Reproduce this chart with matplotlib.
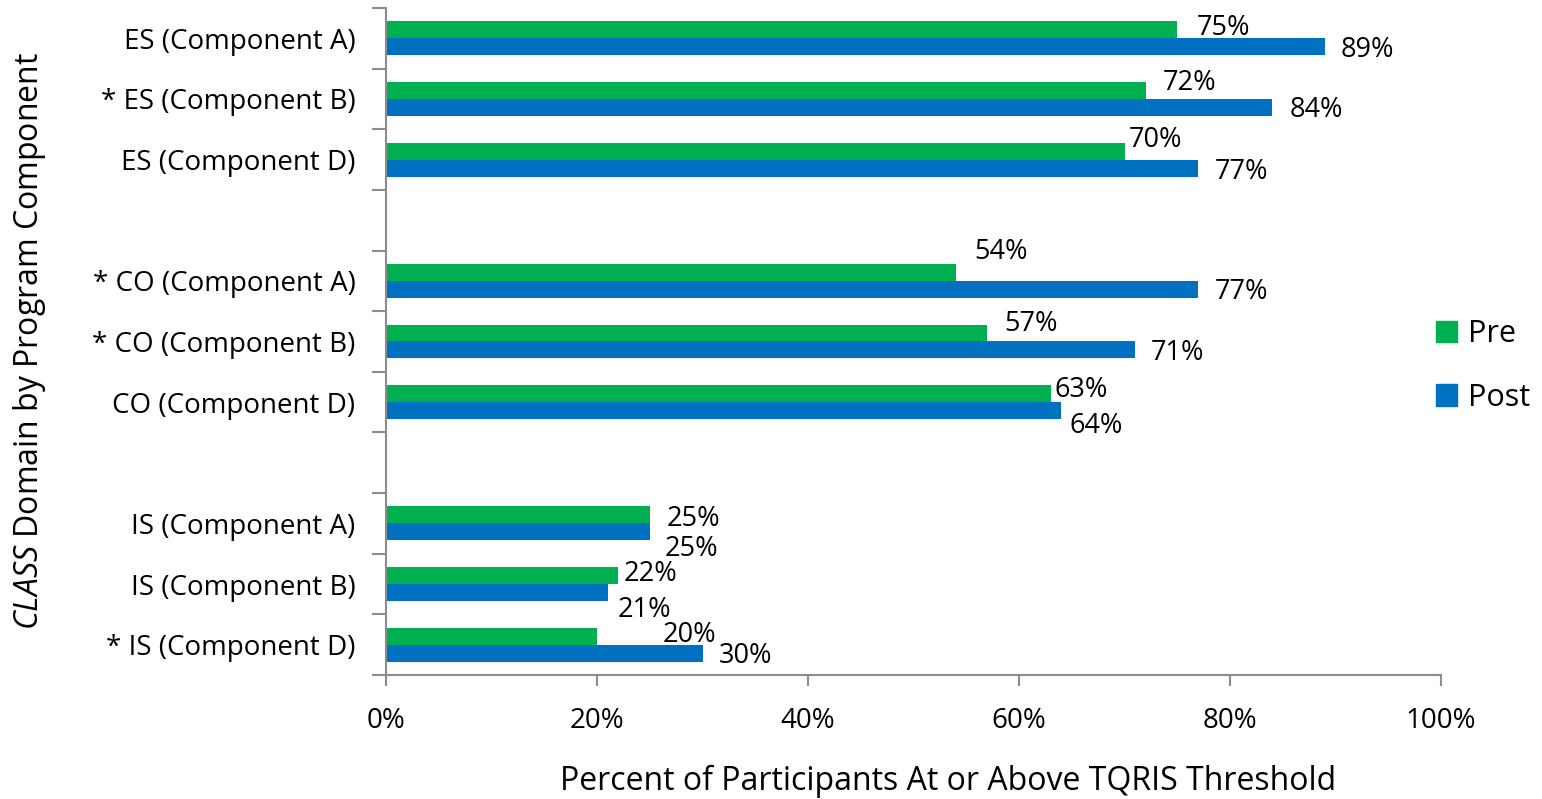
import numpy as np
import matplotlib.pyplot as plt
from matplotlib.patches import Patch

plt.rcParams['font.family'] = ['Open Sans', 'DejaVu Sans']
plt.rcParams['mathtext.fontset'] = 'custom'
plt.rcParams['mathtext.it'] = 'Open Sans:italic'
plt.rcParams['mathtext.rm'] = 'Open Sans'

# data
categories = ["ES (Component A)", "* ES (Component B)", "ES (Component D)",
              "* CO (Component A)", "* CO (Component B)", "CO (Component D)",
              "IS (Component A)", "IS (Component B)", "* IS (Component D)"]
slots = [0, 1, 2, 4, 5, 6, 8, 9, 10]
pre = [75, 72, 70, 54, 57, 63, 25, 22, 20]
post = [89, 84, 77, 77, 71, 64, 25, 21, 30]

# label offsets in pixels (dx from bar end, dy up from bar centre)
pre_off = [(19, 5), (17, 10), (4, 14), (19, 23), (17, 12), (4, 7), (17, -1), (6, 5), (66, 4)]
post_off = [(16, 0), (17, 0), (16, -1), (16, 0), (16, 0), (8, -12), (15, -14), (10, -14), (16, 0)]
DY = -3  # font baseline correction

GREEN = "#00B050"
BLUE = "#0070C0"
GREY = "#8c8c8c"

fig = plt.figure(figsize=(15.42, 7.99), dpi=100)
ax = fig.add_axes([386/1542, 1 - 675/799, (1441-386)/1542, (675-8)/799])

h = 0.28
y = np.array(slots, dtype=float)
ax.barh(y - h/2, pre, height=h, color=GREEN)
ax.barh(y + h/2, post, height=h, color=BLUE)

for i in range(len(slots)):
    ax.annotate(f"{pre[i]}%", (pre[i], y[i] - h/2), xytext=(pre_off[i][0], pre_off[i][1] + DY),
                textcoords='offset pixels', ha='left', va='center', fontsize=19.5)
    ax.annotate(f"{post[i]}%", (post[i], y[i] + h/2), xytext=(post_off[i][0], post_off[i][1] + DY),
                textcoords='offset pixels', ha='left', va='center', fontsize=19.5)

ax.set_xlim(0, 100)
ax.set_ylim(10.5, -0.5)
ax.set_xticks(np.arange(0, 101, 20))
ax.set_xticklabels([f"{v}%" for v in range(0, 101, 20)], fontsize=20)
ax.set_yticks(np.arange(-0.5, 11, 1))
ax.set_yticklabels([])
ax.set_yticks(slots, minor=True)
ax.set_yticklabels(categories, minor=True, fontsize=20)
ax.tick_params(axis='y', which='minor', length=0, pad=22)
ax.tick_params(axis='y', which='major', length=10, width=1.5, color=GREY)
ax.tick_params(axis='x', length=8, width=1.5, color=GREY, pad=15)

for s in ['top', 'right']:
    ax.spines[s].set_visible(False)
for s in ['left', 'bottom']:
    ax.spines[s].set_color(GREY)
    ax.spines[s].set_linewidth(1.5)

fig.text(30/1542, 1 - 341/799, r"$\mathit{CLASS}$ Domain by Program Component",
         rotation=90, ha='center', va='center', fontsize=23)
fig.text(948/1542, 1 - 781/799, "Percent of Participants At or Above TQRIS Threshold",
         ha='center', va='center', fontsize=23)

handles = [Patch(color=GREEN, label="Pre"), Patch(color=BLUE, label="Post")]
fig.legend(handles=handles, loc='center left', bbox_to_anchor=(1436/1542, 1 - 366/799),
           frameon=False, fontsize=22, handlelength=0.7, handleheight=0.7,
           handletextpad=0.35, labelspacing=1.1, borderaxespad=0, borderpad=0)

fig.savefig("out.png", dpi=100)
